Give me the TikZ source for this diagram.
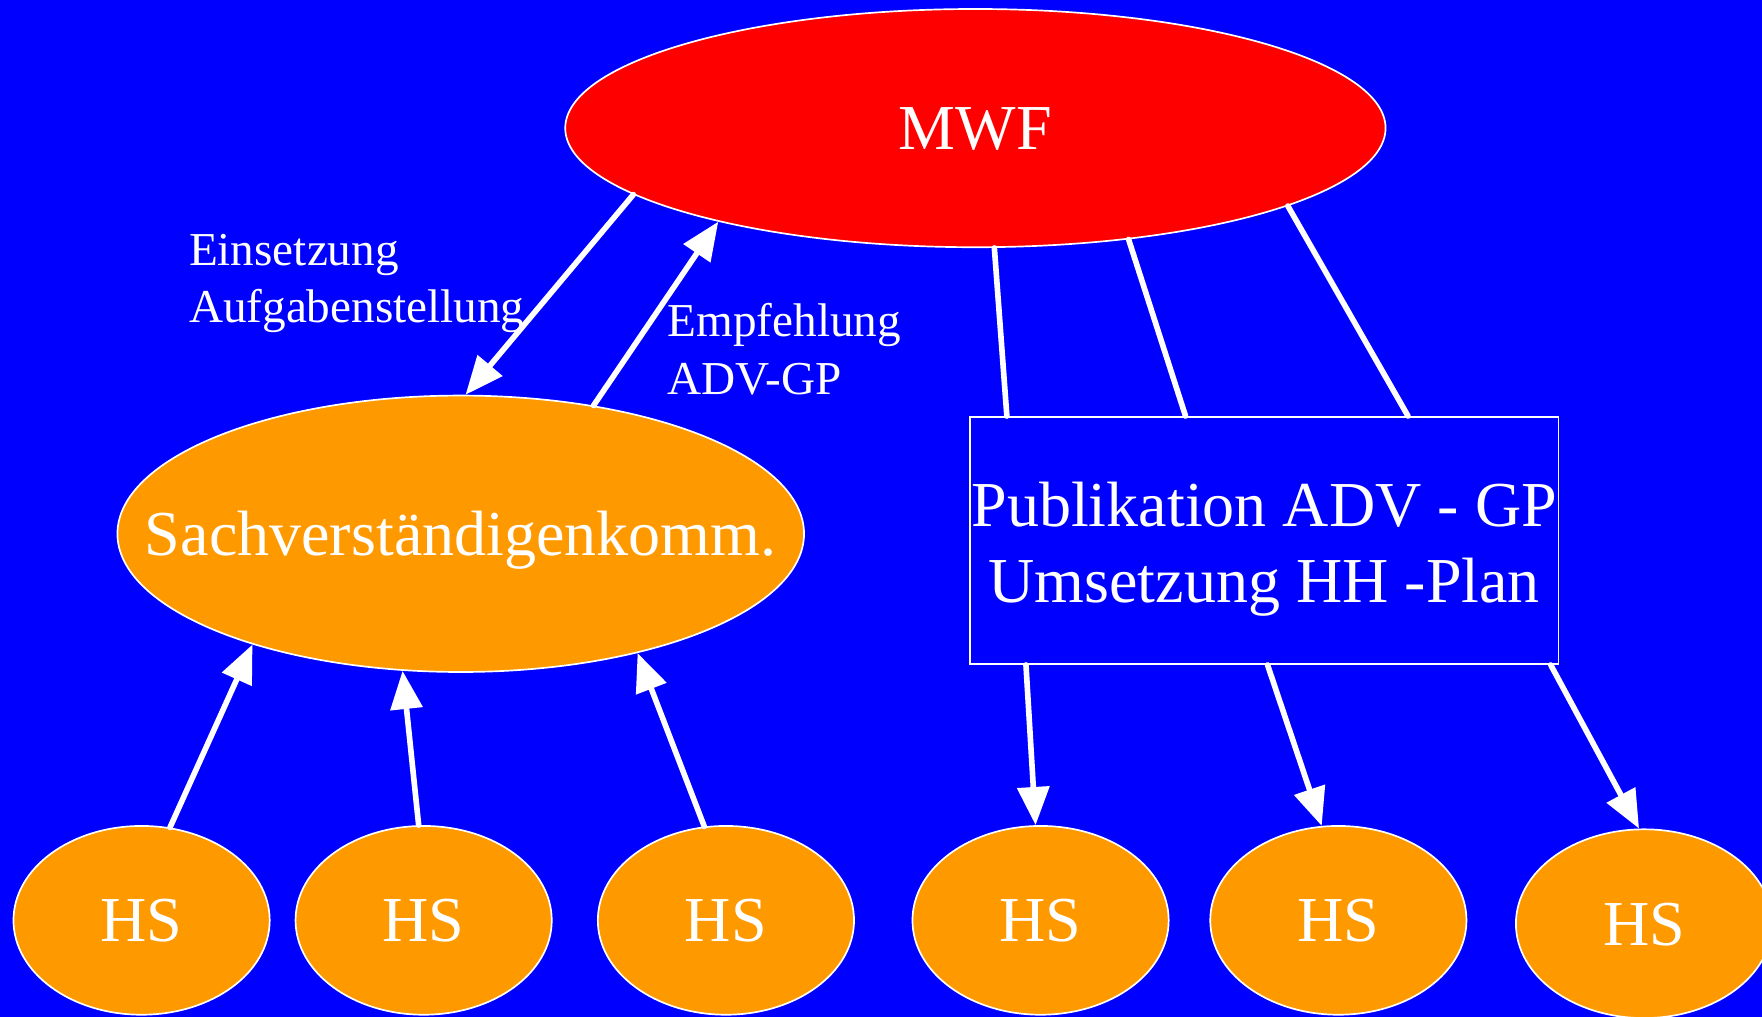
\documentclass[tikz,border=0pt]{standalone}
\usepackage{fontspec}
\setmainfont{Liberation Serif}
\usetikzlibrary{arrows.meta,shapes.geometric}
\definecolor{bgblue}{RGB}{0,0,255}
\definecolor{mwfred}{RGB}{255,0,0}
\definecolor{hsorange}{RGB}{255,153,0}
\begin{document}
\begin{tikzpicture}[x=1pt,y=-1pt,
  every node/.style={text=white},
  big/.style={font=\fontsize{57}{68}\selectfont},
  small/.style={font=\fontsize{42}{51}\selectfont},
  oval/.style={ellipse, draw=white, line width=1.5pt, inner sep=0pt, big, text height=38pt, text depth=0pt, text width=0pt, align=center},
  hs/.style={oval, fill=hsorange, minimum width=228pt, minimum height=168pt},
  conn/.style={white, line width=5pt, line cap=round},
  arr/.style={conn, -{Triangle[length=34pt,width=28pt]}},
  lab/.style={small, align=left, anchor=north west, inner sep=0pt}
]
\useasboundingbox (0,0) rectangle (1568,905);
\clip (0,0) rectangle (1568,905);
\fill[bgblue] (0,0) rectangle (1568,905);

\node[oval, fill=mwfred, minimum width=730pt, minimum height=212pt] (mwf) at (868,114) {\makebox[0pt]{MWF}};
\node[oval, fill=hsorange, minimum width=611pt, minimum height=246pt] (sach) at (410,475) {\makebox[0pt]{Sachverständigenkomm.}};
\node[draw=white, line width=1.5pt, fill=bgblue, minimum width=524pt, minimum height=220pt, inner sep=0pt, align=center, big] (pub) at (1125,481) {\rule{0pt}{55pt}Publikation ADV - GP\\Umsetzung HH -Plan};

\node[hs] (hs1) at (126,819) {\makebox[0pt]{HS}};
\node[hs] (hs2) at (377,819) {\makebox[0pt]{HS}};
\node[hs] (hs3) at (646,819) {\makebox[0pt]{HS}};
\node[hs] (hs4) at (926,819) {\makebox[0pt]{HS}};
\node[hs] (hs5) at (1191,819) {\makebox[0pt]{HS}};
\node[hs] (hs6) at (1463,822) {\makebox[0pt]{HS}};

\node[lab] (lab1) at (168,208) {Einsetzung\\Aufgabenstellung};
\node[lab] (lab2) at (594,270) {Empfehlung\\ADV-GP};

\draw[arr] (mwf.191) -- (sach.88);
\draw[arr] (sach.44) -- (mwf.200);
\draw[conn] (mwf.279) -- ([xshift=-229pt]pub.north);
\draw[conn] (mwf.324) -- ([xshift=-70pt]pub.north);
\draw[conn] (mwf.346) -- ([xshift=128pt]pub.north);
\draw[arr] ([xshift=-212pt]pub.south) -- (hs4.93);
\draw[arr] ([xshift=3pt]pub.south) -- (hs5.100);
\draw[arr] ([xshift=255pt]pub.south) -- (hs6.93);
\draw[arr] (hs1.73) -- (sach.208);
\draw[arr] (hs2.93) -- (sach.247);
\draw[arr] (hs3.103) -- (sach.326);
\end{tikzpicture}
\end{document}
